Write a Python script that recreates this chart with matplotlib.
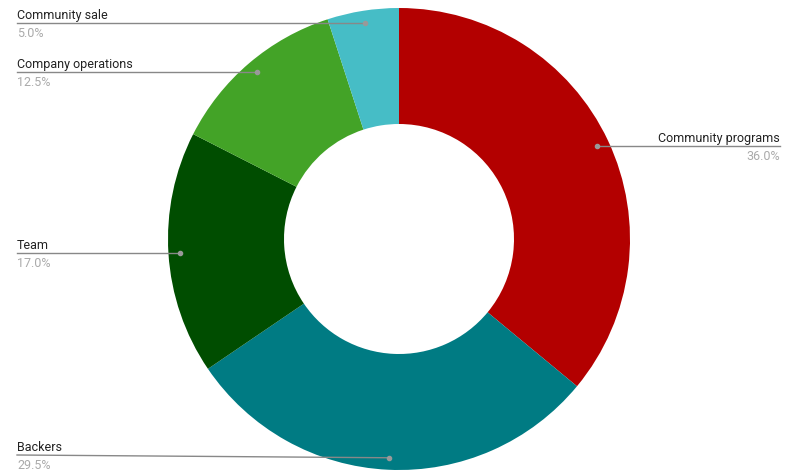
import matplotlib.pyplot as plt
import numpy as np

labels = ['Community programs', 'Backers', 'Team', 'Company operations', 'Community sale']
shares = [36.0, 29.5, 17.0, 12.5, 5.0]
colors = ['#b30000', '#007b83', '#004d00', '#43a327', '#46bdc6']

W, H = 790, 477
cx, cy = 399, H - 240
R, hole = 231, 115

fig = plt.figure(figsize=(W / 100, H / 100), dpi=100)
ax = fig.add_axes([0, 0, 1, 1])

ax.pie(shares, colors=colors, startangle=90, counterclock=False,
       center=(cx, cy), radius=R, frame=True,
       wedgeprops=dict(width=R - hole, linewidth=0))
ax.set_xlim(0, W)
ax.set_ylim(0, H)
ax.set_aspect('equal')
ax.axis('off')

# leader lines and labels
start = 0.0
for name, val in zip(labels, shares):
    mid = start + val / 2
    start += val
    ang = np.deg2rad(90 - mid * 3.6)
    dx = cx + 219 * np.cos(ang)
    dy = cy + 219 * np.sin(ang)
    ly = max(dy, H - 456)
    ax.plot([dx], [dy], 'o', color='#999999', ms=3, zorder=5)
    if np.cos(ang) >= 0:
        ax.plot([dx, 780], [dy, ly], color='#888888', lw=1, zorder=4)
        tx, ha = 780, 'right'
    else:
        ax.plot([17, dx], [ly, dy], color='#888888', lw=1, zorder=4)
        tx, ha = 17, 'left'
    ax.text(tx, ly + 2, name, ha=ha, va='bottom', fontsize=9,
            family='Roboto', color='#222222')
    ax.text(tx, ly - 3, f'{val:.1f}%', ha=ha, va='top', fontsize=9,
            family='Roboto', color='#aaaaaa')

fig.savefig('out.png', dpi=100)
